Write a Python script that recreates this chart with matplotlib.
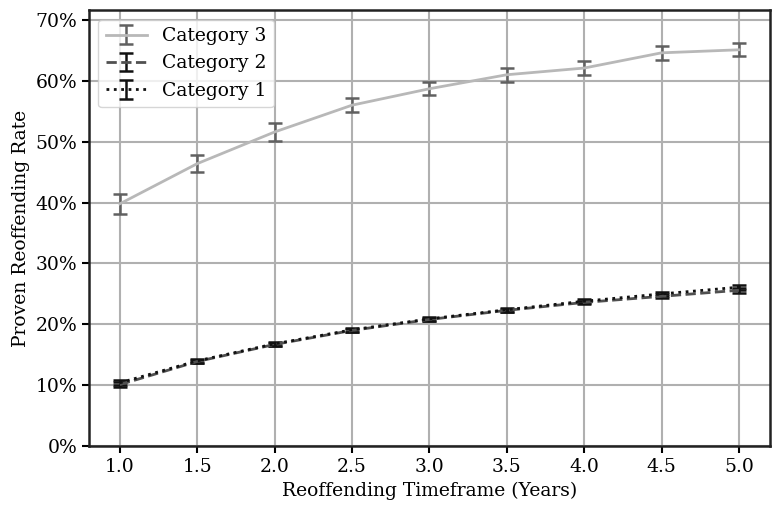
import matplotlib
matplotlib.use('Agg')
import matplotlib.pyplot as plt
from matplotlib.ticker import PercentFormatter

plt.rcParams['font.family'] = ['DejaVu Serif']

years = [1.0, 1.5, 2.0, 2.5, 3.0, 3.5, 4.0, 4.5, 5.0]

cat3 = [39.8, 46.4, 51.6, 56.0, 58.7, 61.0, 62.1, 64.6, 65.1]
cat3_err = [1.6, 1.4, 1.5, 1.15, 1.1, 1.15, 1.15, 1.15, 1.1]

cat2 = [10.1, 13.9, 16.7, 19.0, 20.8, 22.3, 23.6, 24.6, 25.6]
cat2_err = [0.4, 0.3, 0.3, 0.3, 0.3, 0.3, 0.3, 0.35, 0.4]

cat1 = [10.4, 14.0, 16.8, 19.1, 20.9, 22.4, 23.8, 25.0, 26.1]
cat1_err = [0.4, 0.3, 0.3, 0.3, 0.3, 0.3, 0.3, 0.35, 0.4]

fig = plt.figure(figsize=(7.8, 5.11), dpi=100)
ax = fig.add_axes([0.114, 0.127, 0.873, 0.853])

ax.errorbar(years, cat3, yerr=cat3_err, color='#b8b8b8', ecolor='#606060',
            linestyle='-', linewidth=2, elinewidth=1.8, capsize=5, capthick=1.8,
            label='Category 3')
ax.errorbar(years, cat2, yerr=cat2_err, color='#505050', ecolor='#111111',
            linestyle='--', linewidth=2, elinewidth=1.8, capsize=5, capthick=1.8,
            label='Category 2')
ax.errorbar(years, cat1, yerr=cat1_err, color='#111111', ecolor='#111111',
            linestyle=':', linewidth=2, elinewidth=1.8, capsize=5, capthick=1.8,
            label='Category 1')

ax.set_xlim(0.8, 5.2)
ax.set_ylim(0, 71.6)
ax.set_xticks(years)
ax.set_yticks(range(0, 71, 10))
ax.yaxis.set_major_formatter(PercentFormatter(decimals=0))

ax.grid(color='#b0b0b0', linewidth=1.5)
ax.set_axisbelow(True)
for s in ax.spines.values():
    s.set_linewidth(1.8)
    s.set_color('#222222')
ax.tick_params(labelsize=13.5, width=1.5, length=5)

ax.set_xlabel('Reoffending Timeframe (Years)', fontsize=13.5)
ax.set_ylabel('Proven Reoffending Rate', fontsize=13.5)

ax.legend(loc='upper left', fontsize=13.5, framealpha=0.8, handlelength=2.2)

fig.savefig('out.png', dpi=100)
